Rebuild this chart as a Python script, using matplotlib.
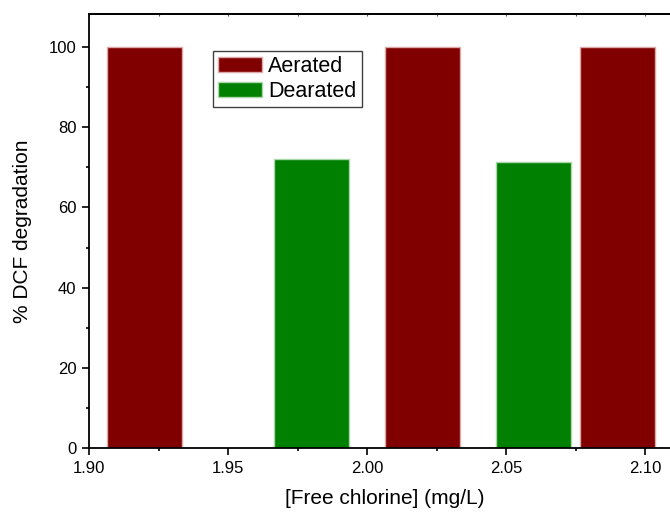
import numpy as np
import matplotlib
matplotlib.use("Agg")
from matplotlib import pyplot as plt
from matplotlib.ticker import MultipleLocator

plt.rcParams['font.family'] = ['Liberation Sans', 'DejaVu Sans']

# data
aerated_x = [1.920, 2.020, 2.090]
aerated_y = [100, 100, 100]
dearated_x = [1.980, 2.060]
dearated_y = [72.1, 71.4]
bar_width = 0.027

fig = plt.figure(figsize=(6.7, 5.14), dpi=100)
# axes runs past the right edge of the figure, like the cropped original
ax = fig.add_axes([89 / 670, (514 - 448.3) / 514, 591 / 670, 434 / 514])

ax.bar(aerated_x, aerated_y, width=bar_width, color='#800000',
       edgecolor='#dca8a8', linewidth=1.0, label='Aerated', zorder=2)
ax.bar(dearated_x, dearated_y, width=bar_width, color='#008000',
       edgecolor='#a8d8a8', linewidth=1.0, label='Dearated', zorder=2)

ax.set_xlim(1.90, 1.90 + 591 / 2780)
ax.set_ylim(0, 108.1)

ax.xaxis.set_major_locator(MultipleLocator(0.05))
ax.xaxis.set_minor_locator(MultipleLocator(0.025))
ax.yaxis.set_major_locator(MultipleLocator(20))
ax.yaxis.set_minor_locator(MultipleLocator(10))
ax.xaxis.set_major_formatter(plt.FormatStrFormatter('%.2f'))

ax.tick_params(which='major', direction='out', length=5, width=1.2,
               labelsize=12, pad=4, top=False, right=False)
ax.tick_params(which='minor', direction='out', length=2.5, width=1.2,
               top=False, right=False)
for s in ['left', 'bottom', 'top']:
    ax.spines[s].set_linewidth(1.3)
ax.spines['right'].set_visible(False)

# tiny inward ticks on the top frame
top = ax.secondary_xaxis('top')
top.xaxis.set_major_locator(MultipleLocator(0.025))
top.tick_params(direction='in', length=1.5, width=0.8, labeltop=False,
                colors='#555555')
top.spines['top'].set_linewidth(1.3)

ax.set_xlabel('[Free chlorine] (mg/L)', fontsize=15)
ax.set_ylabel('% DCF degradation', fontsize=15)
ax.xaxis.set_label_coords(0.5, -0.094)
ax.yaxis.set_label_coords(-0.097, 0.5)

leg = ax.legend(loc='upper left', bbox_to_anchor=(0.21, 0.9155),
                borderaxespad=0, fontsize=15.5, fancybox=False,
                framealpha=1, edgecolor='#404040', borderpad=0.25,
                labelspacing=0.15, handlelength=2.0, handletextpad=0.3)
leg.get_frame().set_linewidth(1.0)

fig.savefig('out.png', dpi=100)
